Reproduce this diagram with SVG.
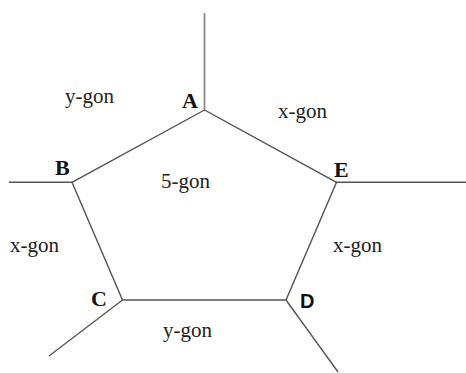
<svg xmlns="http://www.w3.org/2000/svg" width="466" height="373" viewBox="0 0 466 373">
<style>
.e{stroke:#555;stroke-width:1.4;fill:none}
.t{font-family:"Liberation Serif",serif;font-size:21px;fill:#222}
.v{font-family:"Liberation Serif",serif;font-size:22px;font-weight:bold;fill:#111}
.s{font-family:"Liberation Sans",sans-serif;font-size:20px;font-weight:bold;fill:#111}
</style>
<rect width="466" height="373" fill="#fff"/>
<g id="connectors">
<polygon class="e" points="204.5,110 72,182.3 122.5,300 286,300 336.5,182.3"/>
<line class="e" x1="204.5" y1="110" x2="204.5" y2="13" style="stroke:#888;stroke-width:1.8"/>
<line class="e" x1="72" y1="182.3" x2="9" y2="182.3"/>
<line class="e" x1="336.5" y1="182.3" x2="466" y2="182.3"/>
<line class="e" x1="122.5" y1="300" x2="49" y2="356"/>
<line class="e" x1="286" y1="300" x2="338" y2="372"/>
</g>
<g id="A"><text class="v" x="182" y="108">A</text></g>
<g id="B"><text class="v" x="55" y="175">B</text></g>
<g id="C"><text class="v" x="91" y="306">C</text></g>
<g id="D"><text class="s" x="300" y="308">D</text></g>
<g id="E"><text class="v" x="334" y="177">E</text></g>
<g id="labels">
<text class="t" x="65" y="103">y-gon</text>
<text class="t" x="278" y="118">x-gon</text>
<text class="t" x="161" y="188">5-gon</text>
<text class="t" x="10" y="252">x-gon</text>
<text class="t" x="333" y="252">x-gon</text>
<text class="t" x="163" y="337">y-gon</text>
</g>
</svg>
